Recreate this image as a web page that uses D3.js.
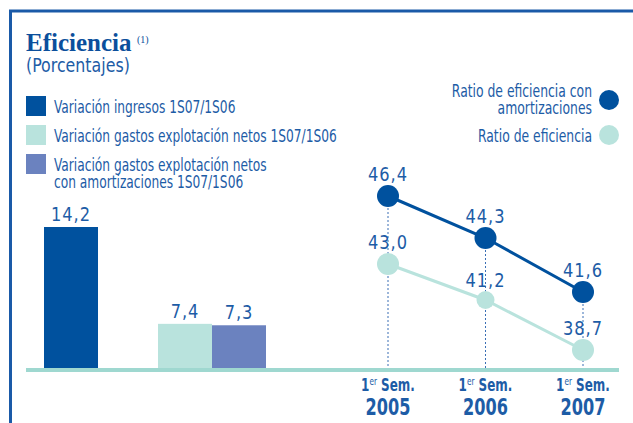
<!DOCTYPE html>
<html>
<head>
<meta charset="utf-8">
<script src="https://cdn.jsdelivr.net/npm/d3@7"></script>
<style>
  body { margin: 0; background: #fff; }
  svg { display: block; }
  text { font-family: "Liberation Sans Narrow", "DejaVu Sans Condensed", sans-serif; fill: #1d5ca6; }
</style>
</head>
<body>
<div class="chart"></div>
<script>
const barNames = ['Variación ingresos 1S07/1S06', 'Variación gastos explotación netos 1S07/1S06', 'Variación gastos explotación netos|con amortizaciones 1S07/1S06'];
const barGroups = ['ingresos', 'gastos', 'gastos'];
const barValues = [14.2, 7.4, 7.3];
const barLabels = ['14,2', '7,4', '7,3'];

const years = ['2005', '2006', '2007'];
const ratioAmort = [46.4, 44.3, 41.6];
const ratioAmortLabels = ['46,4', '44,3', '41,6'];
const ratioPlain = [43.0, 41.2, 38.7];
const ratioPlainLabels = ['43,0', '41,2', '38,7'];
const lineNames = ['Ratio de eficiencia con|amortizaciones', 'Ratio de eficiencia'];

const colors = ['#00519e', '#b9e3dd', '#6b82bf'];
const dark = '#00519e';
const light = '#b9e3dd';

// condensed text: the original face is narrower than anything installed
function narrowText(parent, x, y, size, squeeze) {
  return parent.append('text')
    .attr('transform', `translate(${x}, ${y}) scale(${squeeze}, 1)`)
    .style('font-size', size + 'px');
}

function drawChart() {
  const width = 633, height = 423;
  const baseY = 368;

  const svg = d3.select('.chart')
    .append('svg')
    .attr('width', width)
    .attr('height', height);

  // frame
  svg.append('path')
    .attr('d', `M10.5,${height} V11 H${width}`)
    .attr('fill', 'none')
    .attr('stroke', '#1a5aa8')
    .attr('stroke-width', 3);

  // title
  svg.append('text')
    .attr('x', 26)
    .attr('y', 51)
    .style('font-family', '"Liberation Serif", serif')
    .style('font-weight', 'bold')
    .style('font-size', '25px')
    .style('fill', '#0b4f9c')
    .text('Eficiencia');
  svg.append('text')
    .attr('x', 137)
    .attr('y', 43)
    .style('font-family', '"Liberation Serif", serif')
    .style('font-size', '10px')
    .style('fill', '#0b4f9c')
    .text('(1)');
  narrowText(svg, 26, 72, 20, 0.88).text('(Porcentajes)');

  // bar legend
  const legendY = [96, 125, 154];
  barNames.forEach((name, i) => {
    svg.append('rect')
      .attr('x', 26).attr('y', legendY[i])
      .attr('width', 20).attr('height', 20)
      .attr('fill', colors[i]);
    const t = narrowText(svg, 54, legendY[i] + 17, 17, 0.8);
    name.split('|').forEach((line, j) => {
      t.append('tspan').attr('x', 0).attr('dy', j ? 17 : 0).text(line);
    });
  });

  // bars
  const yBar = d3.scaleLinear()
    .domain([4.3, 14.2])
    .range([baseY, 227]);

  const xGroup = d3.scaleBand()
    .domain(['ingresos', 'gastos'])
    .range([17, 266])
    .paddingInner(0.234);

  const xSub = d3.scaleBand()
    .domain([0, 1])
    .range([0, xGroup.bandwidth()]);

  const barX = i => {
    const members = barGroups.map((g, k) => k).filter(k => barGroups[k] === barGroups[i]);
    const pos = members.indexOf(i);
    const offset = members.length === 1 ? xSub.bandwidth() / 2 : xSub(pos);
    return xGroup(barGroups[i]) + offset;
  };

  svg.selectAll('.bar')
    .data(barValues)
    .enter()
    .append('rect')
    .attr('class', 'bar')
    .attr('x', (d, i) => barX(i))
    .attr('y', d => yBar(d))
    .attr('width', xSub.bandwidth())
    .attr('height', d => baseY - yBar(d))
    .attr('fill', (d, i) => colors[i]);

  barValues.forEach((d, i) => {
    narrowText(svg, barX(i) + xSub.bandwidth() / 2, yBar(d) - 6, 19, 0.95)
      .attr('text-anchor', 'middle')
      .style('letter-spacing', '1px')
      .text(barLabels[i]);
  });

  // lines
  const xLine = d3.scalePoint()
    .domain(years)
    .range([388, 583]);

  const yLine = d3.scaleLinear()
    .domain([37.7, 46.4])
    .range([370, 196]);

  // dotted guides
  svg.selectAll('.guide')
    .data(years)
    .enter()
    .append('line')
    .attr('class', 'guide')
    .attr('x1', d => xLine(d))
    .attr('x2', d => xLine(d))
    .attr('y1', (d, i) => yLine(ratioAmort[i]))
    .attr('y2', baseY)
    .attr('stroke', '#3a6fb5')
    .attr('stroke-width', 1)
    .attr('stroke-dasharray', '2,2');

  // baseline
  svg.append('rect')
    .attr('x', 26).attr('y', baseY)
    .attr('width', 593).attr('height', 4)
    .attr('fill', '#9fd8d0');

  const series = [
    {values: ratioPlain, labels: ratioPlainLabels, color: light, radius: [11, 9, 11]},
    {values: ratioAmort, labels: ratioAmortLabels, color: dark, radius: [11, 11, 11]}
  ];

  const line = d3.line()
    .x((d, i) => xLine(years[i]))
    .y(d => yLine(d));

  series.forEach(s => {
    svg.append('path')
      .attr('d', line(s.values))
      .attr('fill', 'none')
      .attr('stroke', s.color)
      .attr('stroke-width', 3);

    svg.selectAll(null)
      .data(s.values)
      .enter()
      .append('circle')
      .attr('cx', (d, i) => xLine(years[i]))
      .attr('cy', d => yLine(d))
      .attr('r', (d, i) => s.radius[i])
      .attr('fill', s.color);

    s.values.forEach((d, i) => {
      narrowText(svg, xLine(years[i]), yLine(d) - s.radius[i] - 4, 19, 0.95)
        .attr('text-anchor', 'middle')
        .style('letter-spacing', '1px')
        .text(s.labels[i]);
    });
  });

  // x axis labels
  const xAxis = svg.append('g')
    .attr('transform', `translate(0, ${baseY})`)
    .call(d3.axisBottom(xLine).tickSize(0).tickFormat(''));
  xAxis.select('.domain').remove();

  years.forEach(y => {
    const t = narrowText(svg, xLine(y), 391, 18, 0.74)
      .attr('text-anchor', 'middle')
      .style('font-weight', 'bold');
    t.append('tspan').text('1');
    t.append('tspan').attr('dy', -6).style('font-size', '11px').style('font-weight', 'normal').text('er');
    t.append('tspan').attr('dy', 6).text(' Sem.');

    narrowText(svg, xLine(y), 415, 23, 0.78)
      .attr('text-anchor', 'middle')
      .style('font-weight', 'bold')
      .text(y);
  });

  // line legend
  const lineLegendY = [100, 135];
  lineNames.forEach((name, i) => {
    svg.append('circle')
      .attr('cx', 609)
      .attr('cy', lineLegendY[i])
      .attr('r', 10)
      .attr('fill', i === 0 ? dark : light);
    const t = narrowText(svg, 592, i === 0 ? 97 : 142, 17, 0.81)
      .attr('text-anchor', 'end');
    name.split('|').forEach((part, j) => {
      t.append('tspan').attr('x', 0).attr('dy', j ? 17 : 0).text(part);
    });
  });
}

drawChart();
</script>
</body>
</html>
